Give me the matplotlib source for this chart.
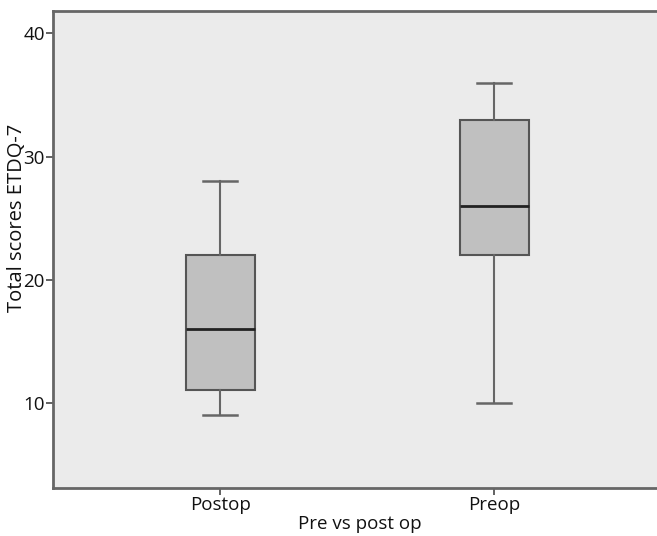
import matplotlib
matplotlib.use("Agg")
import matplotlib.pyplot as plt

categories = ["Postop", "Preop"]
whisker_low = [9, 10]
q1 = [11, 22]
median = [16, 26]
q3 = [22, 33]
whisker_high = [28, 36]
y_ticks = [10, 20, 30, 40]

plt.rcParams['font.family'] = ['Open Sans', 'DejaVu Sans']

fig = plt.figure(figsize=(6.57, 5.36), dpi=100)
ax = fig.add_axes([53/657, 48.3/536, 1 - 53/657, (487.7 - 10.7)/536])
ax.set_facecolor('#EBEBEB')

stats = []
for i, c in enumerate(categories):
    stats.append(dict(label=c, whislo=whisker_low[i], q1=q1[i], med=median[i],
                      q3=q3[i], whishi=whisker_high[i], fliers=[]))

positions = list(range(1, len(categories) + 1))
ax.bxp(stats, positions=positions, widths=0.252, capwidths=0.124, patch_artist=True,
       showfliers=False,
       boxprops=dict(facecolor='#C0C0C0', edgecolor='#555555', linewidth=1.5),
       whiskerprops=dict(color='#666666', linewidth=1.5),
       capprops=dict(color='#666666', linewidth=1.8),
       medianprops=dict(color='#222222', linewidth=2.0))

ax.set_xlim(0.389, 2.593)
ax.set_ylim(3.1, 41.85)
ax.set_yticks(y_ticks)
ax.set_yticklabels([str(t) for t in y_ticks])
ax.set_xticks(positions)
ax.set_xticklabels(categories)
ax.tick_params(axis='both', labelsize=13.5, color='#555555', length=5, width=1.3, pad=1,
               labelcolor='#111111')

for s in ['right']:
    ax.spines[s].set_visible(False)
for s in ['left', 'bottom', 'top']:
    ax.spines[s].set_color('#666666')
    ax.spines[s].set_linewidth(2.0)

fig.text(17/657, 1 - 218/536, "Total scores ETDQ-7", rotation=90, ha='center', va='center',
         fontsize=14.5, color='#111111')
fig.text(360/657, 1 - 524/536, "Pre vs post op", ha='center', va='center', fontsize=13.5,
         color='#111111')

fig.savefig("out.png", dpi=100)
